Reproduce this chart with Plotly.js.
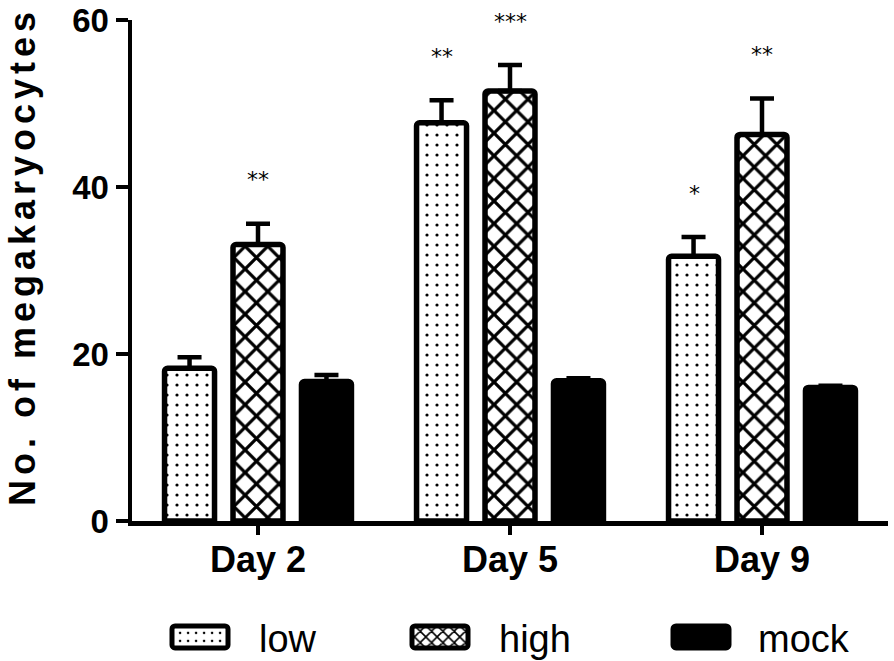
<!DOCTYPE html>
<html><head><meta charset="utf-8">
<script src="https://cdn.plot.ly/plotly-3.0.1.min.js"></script>
<style>html,body{margin:0;padding:0;background:#fff;}#chart{width:894px;height:661px;}
.ytitle{letter-spacing:5px;}</style>
</head><body><div id="chart"></div>
<script>
var days = ['Day 2', 'Day 5', 'Day 9'];
var lowVals = [18.3, 47.7, 31.7];
var lowErr = [1.3, 2.7, 2.3];
var highVals = [33.1, 51.5, 46.3];
var highErr = [2.5, 3.1, 4.3];
var mockVals = [16.7, 16.8, 16.0];
var mockErr = [0.8, 0.3, 0.2];
var lowStars = ['', '**', '*'];
var highStars = ['**', '***', '**'];
var mockStars = ['', '', ''];
var yTicks = [0, 20, 40, 60];

// legend placement (pixels) to mimic the reference's wide legend row
var LEG = {swatchCx: [200, 440, 701], textX: [259, 499, 758], halfW: 28, halfH: 11};

var FONT = 'Liberation Sans, Arial, sans-serif';
function errOpts(arr) {
  return {type: 'data', array: arr, arrayminus: arr.map(function(){return 0;}), symmetric: false,
          visible: true, color: '#000', thickness: 4.5, width: 12};
}
var lineOpt = {color: '#000', width: 5.5};
var traces = [
  {type: 'bar', name: 'low', x: days, y: lowVals, error_y: errOpts(lowErr),
   marker: {color: '#fff', line: lineOpt, cornerradius: 3,
            pattern: {shape: '.', fgcolor: '#000', bgcolor: '#fff', size: 10, solidity: 0.08}}},
  {type: 'bar', name: 'high', x: days, y: highVals, error_y: errOpts(highErr),
   marker: {color: '#fff', line: lineOpt, cornerradius: 3,
            pattern: {shape: 'x', fgcolor: '#000', bgcolor: '#fff', size: 16, solidity: 0.36}}},
  {type: 'bar', name: 'mock', x: days, y: mockVals, error_y: errOpts(mockErr),
   marker: {color: '#000', line: lineOpt, cornerradius: 3}}
];

var annotations = [];
var groups = [[lowVals, lowErr, lowStars, -68], [highVals, highErr, highStars, 0], [mockVals, mockErr, mockStars, 68]];
groups.forEach(function(g) {
  days.forEach(function(d, i) {
    if (g[2][i]) {
      annotations.push({x: d, y: g[0][i] + g[1][i], xref: 'x', yref: 'y', xshift: g[3], yshift: 44,
        text: g[2][i], showarrow: false, yanchor: 'middle',
        font: {family: 'DejaVu Sans, sans-serif', size: 22, color: '#000'}});
    }
  });
});

var layout = {
  width: 894, height: 661,
  margin: {l: 132, r: 6, t: 20, b: 140},
  paper_bgcolor: '#fff', plot_bgcolor: '#fff',
  barmode: 'group', bargap: 0.185, bargroupgap: 0.27,
  showlegend: true,
  legend: {orientation: 'h', x: 0.057, y: 0.036, xref: 'paper', yref: 'container', xanchor: 'left', yanchor: 'middle',
    bgcolor: 'rgba(0,0,0,0)',
    font: {family: FONT, size: 38, color: '#000'}, itemwidth: 40, traceorder: 'normal'},
  xaxis: {type: 'category', range: [-0.5, 2.5], showline: true, linecolor: '#000', linewidth: 4.5,
    ticks: 'outside', ticklen: 9, tickwidth: 4, tickcolor: '#000', showgrid: false, zeroline: false,
    ticklabelstandoff: -6,
    tickfont: {family: FONT, size: 36, color: '#000', weight: 'bold'}, fixedrange: true},
  yaxis: {range: [0, 60], tickvals: yTicks, showline: true, linecolor: '#000', linewidth: 4.5,
    ticks: 'outside', ticklen: 12, tickwidth: 4, tickcolor: '#000', showgrid: false, zeroline: false,
    tickfont: {family: FONT, size: 33, color: '#000', weight: 'bold'},
    title: {text: 'No. of megakaryocytes', font: {family: FONT, size: 36, color: '#000', weight: 'bold'}, standoff: 27}},
  annotations: annotations
};

function rectPath(cx, cy) {
  var w = LEG.halfW, h = LEG.halfH, r = 3;
  return 'M' + (cx - w + r) + ',' + (cy - h) + 'H' + (cx + w - r) +
    'A' + r + ',' + r + ' 0 0 1 ' + (cx + w) + ',' + (cy - h + r) + 'V' + (cy + h - r) +
    'A' + r + ',' + r + ' 0 0 1 ' + (cx + w - r) + ',' + (cy + h) + 'H' + (cx - w + r) +
    'A' + r + ',' + r + ' 0 0 1 ' + (cx - w) + ',' + (cy + h - r) + 'V' + (cy - h + r) +
    'A' + r + ',' + r + ' 0 0 1 ' + (cx - w + r) + ',' + (cy - h) + 'Z';
}

Plotly.newPlot('chart', traces, layout, {displayModeBar: false, staticPlot: true}).then(function(gd) {
  var svgRect = gd.querySelector('.main-svg').getBoundingClientRect();
  gd.querySelectorAll('.legend [clip-path]').forEach(function(el) { el.removeAttribute('clip-path'); });
  var items = gd.querySelectorAll('.legend g.traces');
  items.forEach(function(item, i) {
    var path = item.querySelector('.legendpoints path');
    var text = item.querySelector('text.legendtext');
    if (path) {
      path.setAttribute('d', rectPath(0, 0));
      path.style.strokeWidth = '5px';
      path.style.stroke = '#000';
      var r = path.getBoundingClientRect();
      var cx = (r.left + r.right) / 2 - svgRect.left;
      path.setAttribute('d', rectPath(LEG.swatchCx[i] - cx, 0));
    }
    if (text) {
      var t = text.getBoundingClientRect();
      var tx = parseFloat(text.getAttribute('x') || 0);
      text.setAttribute('x', tx + LEG.textX[i] - (t.left - svgRect.left));
    }
  });
  var yt = gd.querySelector('.g-ytitle');
  if (yt) yt.setAttribute('transform', 'translate(0,-14)');
});
</script></body></html>
